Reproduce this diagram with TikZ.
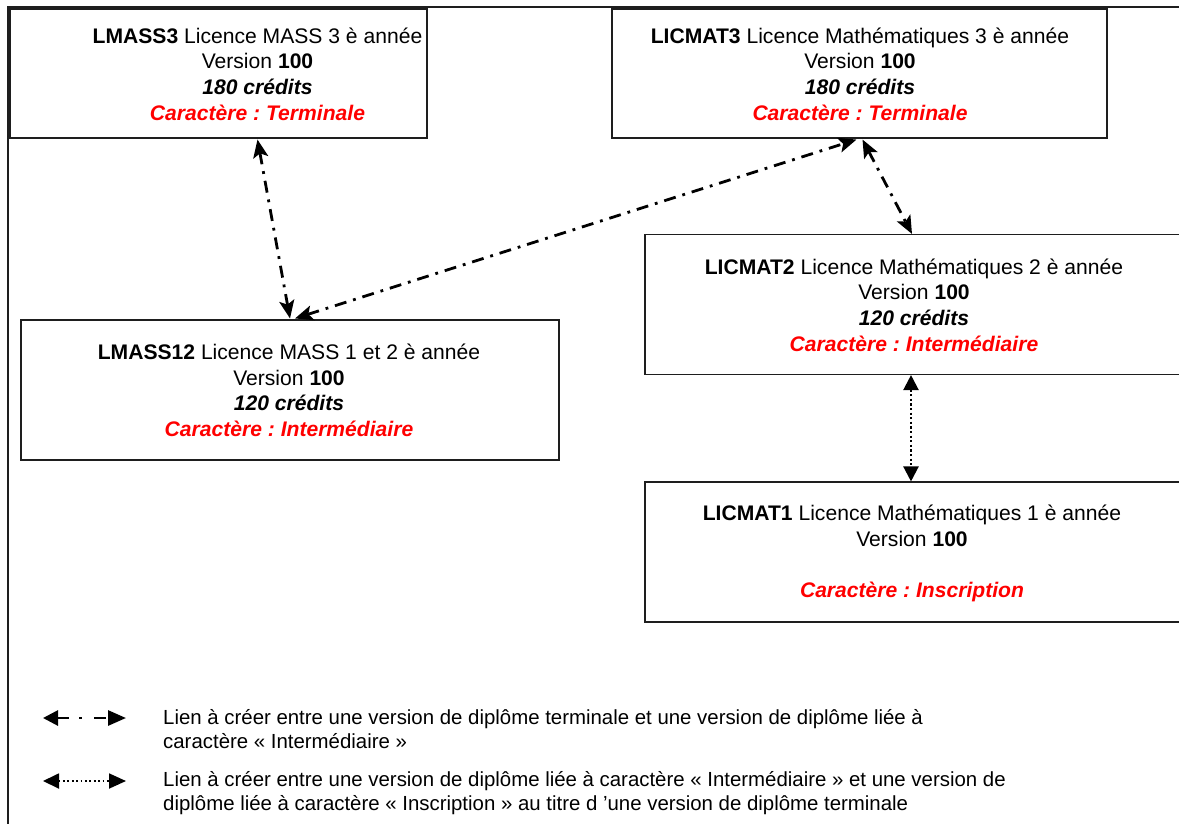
\documentclass[tikz,border=0pt]{standalone}
\usepackage{fontspec}
\setmainfont{Liberation Sans}
\usetikzlibrary{arrows.meta,calc}
\definecolor{redtxt}{RGB}{255,0,0}
\definecolor{boxline}{RGB}{30,30,30}
\tikzset{
  box/.style={draw=boxline, line width=1.1pt, rectangle, inner sep=0pt},
  boxtext/.style={anchor=base, inner sep=0pt, align=center,
    font=\fontsize{21.1}{25.6}\selectfont\frenchspacing},
  legtxt/.style={anchor=base west, inner sep=0pt, align=left,
    font=\fontsize{20.4}{24}\selectfont\frenchspacing},
  ddarrow/.style={line width=2.8pt, {Stealth[length=18pt,width=15pt,inset=4pt]}-{Stealth[length=18pt,width=15pt,inset=4pt]},
    dash pattern=on 12pt off 7pt on 2.8pt off 7pt},
  dotarrow/.style={line width=2.2pt, {Triangle[length=15pt,width=15pt]}-{Triangle[length=15pt,width=15pt]},
    dash pattern=on 2.2pt off 2.4pt},
}
\newcommand{\rtxt}[1]{\textcolor{redtxt}{\bfseries\itshape #1}}
\begin{document}
\begin{tikzpicture}[x=1pt,y=-1pt]
\useasboundingbox (0,0) rectangle (1179,823);
% outer frame
\draw[line width=1.6pt, boxline] (1185,7) -- (8,7) -- (8,830);
% boxes
\node[box, minimum width=417pt, minimum height=129pt] (m3) at (218.5,73.5) {};
\node[box, minimum width=495pt, minimum height=129pt] (c3) at (859.5,73.5) {};
\node[box, minimum width=536pt, minimum height=140pt] (c2) at (913,304.5) {};
\node[box, minimum width=538pt, minimum height=140pt] (m12) at (290,390) {};
\node[box, minimum width=536pt, minimum height=140pt] (c1) at (913,552) {};
% box texts (anchor = baseline of last line)
\node[boxtext] (m3t) at (257.5,120)
  {\textbf{LMASS3} Licence MASS 3 è année\\ Version \textbf{100}\\ \textbf{\itshape 180 crédits}\\ \rtxt{Caractère : Terminale}};
\node[boxtext] (c3t) at (860,120)
  {\textbf{LICMAT3} Licence Mathématiques 3 è année\\ Version \textbf{100}\\ \textbf{\itshape 180 crédits}\\ \rtxt{Caractère : Terminale}};
\node[boxtext] (c2t) at (914,351)
  {\textbf{LICMAT2} Licence Mathématiques 2 è année\\ Version \textbf{100}\\ \textbf{\itshape 120 crédits}\\ \rtxt{Caractère : Intermédiaire}};
\node[boxtext] (m12t) at (289,436.5)
  {\textbf{LMASS12} Licence MASS 1 et 2 è année\\ Version \textbf{100}\\ \textbf{\itshape 120 crédits}\\ \rtxt{Caractère : Intermédiaire}};
\node[boxtext] (c1t) at (912,597.5)
  {\textbf{LICMAT1} Licence Mathématiques 1 è année\\ Version \textbf{100}\\ \strut\\ \rtxt{Caractère : Inscription}};
% connectors
\draw[ddarrow] ([xshift=39pt,yshift=-1pt]m3.south) -- ([yshift=1pt]m12.north);
\draw[ddarrow] ([xshift=5pt,yshift=1pt]m12.north) -- ([xshift=-3pt,yshift=-1pt]c3.south);
\draw[ddarrow] ([xshift=3pt,yshift=-1pt]c3.south) -- ([xshift=-1pt]c2.north);
\draw[dotarrow] ([xshift=-2pt]c2.south) -- ([xshift=-2pt]c1.north);
% legend
\coordinate (l1a) at (43,718);
\coordinate (l1b) at (126,718);
\coordinate (l2a) at (43,781);
\coordinate (l2b) at (126,781);
\draw[line width=2.8pt, {Triangle[length=15pt,width=15pt]}-{Triangle[length=18pt,width=15pt]},
  dash pattern=on 12pt off 10pt on 3pt off 12pt] (l1a) -- (l1b);
\draw[line width=1.8pt, {Triangle[length=16pt,width=15pt]}-{Triangle[length=17pt,width=15pt]},
  dash pattern=on 1.8pt off 2.6pt] (l2a) -- (l2b);
\node[legtxt] (t1) at (163,748)
  {Lien à créer entre une version de diplôme terminale et une version de diplôme liée à\\ caractère « Intermédiaire »};
\node[legtxt] (t2) at (163,810.5)
  {Lien à créer entre une version de diplôme liée à caractère « Intermédiaire » et une version de\\ diplôme liée à caractère « Inscription » au titre d ’une version de diplôme terminale};
\end{tikzpicture}
\end{document}
